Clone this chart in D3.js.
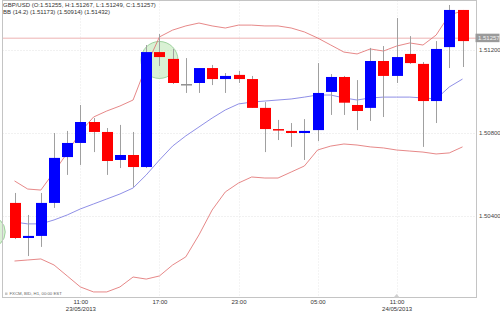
<!DOCTYPE html>
<html>
<head>
<meta charset="utf-8">
<script src="https://cdn.jsdelivr.net/npm/d3@7"></script>
<style>
  body { margin: 0; background: #fff; }
  svg { display: block; font-family: "Liberation Sans", Arial, sans-serif; }
</style>
</head>
<body>
<script>
// GBP/USD hourly candles, 23/05/2013 06:00 .. 24/05/2013 16:00
const hours = d3.timeHour.range(new Date(2013, 4, 23, 6), new Date(2013, 4, 24, 17));

const open  = [1.50463, 1.50294, 1.50304, 1.50463, 1.50684, 1.50752, 1.50853, 1.50805, 1.50670, 1.50694,
               1.50636, 1.51190, 1.51157, 1.51036, 1.51041, 1.51113, 1.51060, 1.51080, 1.51060, 1.50921,
               1.50819, 1.50810, 1.50800, 1.50814, 1.50998, 1.51070, 1.50935, 1.50921, 1.51147, 1.51075,
               1.51181, 1.51133, 1.50954, 1.51214, 1.51393];
const high  = [1.50511, 1.50405, 1.50511, 1.50800, 1.50810, 1.50935, 1.50872, 1.50824, 1.50839, 1.50805,
               1.51224, 1.51277, 1.51205, 1.51161, 1.51113, 1.51128, 1.51089, 1.51099, 1.51075, 1.50949,
               1.50863, 1.50848, 1.50867, 1.51137, 1.51084, 1.51075, 1.51055, 1.51210, 1.51219, 1.51354,
               1.51267, 1.51142, 1.51243, 1.51417, 1.51393];
const low   = [1.50289, 1.50207, 1.50251, 1.50439, 1.50598, 1.50646, 1.50708, 1.50598, 1.50631, 1.50540,
               1.50631, 1.51123, 1.51036, 1.50993, 1.50993, 1.51031, 1.50993, 1.51041, 1.50921, 1.50708,
               1.50766, 1.50733, 1.50670, 1.50761, 1.50887, 1.50887, 1.50814, 1.50858, 1.50877, 1.51041,
               1.51133, 1.50733, 1.50848, 1.51113, 1.51118];
const close = [1.50294, 1.50304, 1.50463, 1.50680, 1.50752, 1.50853, 1.50805, 1.50665, 1.50694, 1.50636,
               1.51190, 1.51166, 1.51041, 1.51036, 1.51113, 1.51060, 1.51075, 1.51060, 1.50921, 1.50819,
               1.50814, 1.50800, 1.50810, 1.50993, 1.51070, 1.50946, 1.50906, 1.51147, 1.51075, 1.51166,
               1.51137, 1.50954, 1.51205, 1.51393, 1.51243];

// Bollinger bands (14, 2)
const bbUpper  = [1.50569, 1.50530, 1.50525, 1.50612, 1.50704, 1.50805, 1.50877, 1.50906, 1.50930, 1.50959,
                  1.51123, 1.51263, 1.51296, 1.51316, 1.51330, 1.51316, 1.51306, 1.51320, 1.51320, 1.51316,
                  1.51316, 1.51306, 1.51287, 1.51258, 1.51224, 1.51190, 1.51181, 1.51205, 1.51195, 1.51219,
                  1.51234, 1.51224, 1.51272, 1.51369, 1.51388];
const bbMiddle = [1.50371, 1.50362, 1.50362, 1.50381, 1.50405, 1.50434, 1.50458, 1.50482, 1.50506, 1.50535,
                  1.50598, 1.50670, 1.50737, 1.50786, 1.50829, 1.50872, 1.50911, 1.50940, 1.50949, 1.50954,
                  1.50959, 1.50964, 1.50973, 1.50983, 1.50983, 1.50969, 1.50959, 1.50969, 1.50973, 1.50973,
                  1.50973, 1.50969, 1.50964, 1.51022, 1.51060];
const bbLower  = [1.50183, 1.50188, 1.50193, 1.50164, 1.50111, 1.50058, 1.50034, 1.50034, 1.50058, 1.50106,
                  1.50096, 1.50111, 1.50164, 1.50203, 1.50309, 1.50429, 1.50516, 1.50559, 1.50588, 1.50583,
                  1.50583, 1.50612, 1.50641, 1.50718, 1.50737, 1.50747, 1.50742, 1.50733, 1.50728, 1.50718,
                  1.50713, 1.50708, 1.50699, 1.50704, 1.50733];

const lastPrice = 1.51257;
const yTicks = [1.504, 1.508, 1.512];
const xTicks = [new Date(2013, 4, 23, 11), new Date(2013, 4, 23, 17), new Date(2013, 4, 23, 23),
                new Date(2013, 4, 24, 5), new Date(2013, 4, 24, 11)];
const dateLabels = ['23/05/2013', '', '', '', '24/05/2013'];
const highlights = [{t: new Date(2013, 4, 23, 17), p: 1.51152, r: 18.5},
                    {t: new Date(2013, 4, 23, 4, 5), p: 1.50323, r: 16}];

const width = 500, height = 313;
const frame = {left: 2.5, top: 0.5, right: 476.5, bottom: 297.5};

const svg = d3.select('body').append('svg')
  .attr('width', width)
  .attr('height', height);

const x = d3.scaleTime()
  .domain([hours[0], hours[hours.length - 1]])
  .range([14.5, 462.5]);

const y = d3.scaleLinear()
  .domain([1.504, 1.512])
  .range([216, 50]);

const bodyW = 11;

// grid
svg.append('g').selectAll('line')
  .data(yTicks).enter().append('line')
  .attr('x1', frame.left).attr('x2', frame.right)
  .attr('y1', d => Math.round(y(d)) + 0.5).attr('y2', d => Math.round(y(d)) + 0.5)
  .style('stroke', '#e2e2e2').style('stroke-dasharray', '1,2');

svg.append('g').selectAll('line')
  .data(xTicks).enter().append('line')
  .attr('x1', d => Math.round(x(d)) + 0.5).attr('x2', d => Math.round(x(d)) + 0.5)
  .attr('y1', frame.top).attr('y2', frame.bottom)
  .style('stroke', '#e8e8e8').style('stroke-dasharray', '1,2');

// highlight circles
svg.append('g').selectAll('circle')
  .data(highlights).enter().append('circle')
  .attr('cx', d => x(d.t))
  .attr('cy', d => y(d.p))
  .attr('r', d => d.r)
  .style('fill', 'rgba(170,225,160,0.45)')
  .style('stroke', '#8bc88b')
  .style('stroke-width', 0.8);

// last price line
svg.append('line')
  .attr('x1', frame.left).attr('x2', frame.right)
  .attr('y1', y(lastPrice)).attr('y2', y(lastPrice))
  .style('stroke', '#e8a0a0').style('stroke-width', 0.8);

// bands
const band = vals => d3.line()
  .x((d, i) => x(hours[i]))
  .y(d => y(d))(vals);

svg.append('path').attr('d', band(bbUpper))
  .style('fill', 'none').style('stroke', '#e06a6a').style('stroke-width', 0.8);
svg.append('path').attr('d', band(bbLower))
  .style('fill', 'none').style('stroke', '#e06a6a').style('stroke-width', 0.8);
svg.append('path').attr('d', band(bbMiddle))
  .style('fill', 'none').style('stroke', '#7272e0').style('stroke-width', 0.8);

// candles
const candles = hours.map((t, i) => ({t, o: open[i], h: high[i], l: low[i], c: close[i]}));

const cg = svg.append('g').selectAll('g')
  .data(candles).enter().append('g');

cg.append('line')
  .attr('x1', d => Math.round(x(d.t)) + 0.5).attr('x2', d => Math.round(x(d.t)) + 0.5)
  .attr('y1', d => y(d.h)).attr('y2', d => y(d.l))
  .style('stroke', '#a0a0a0').style('stroke-width', 1);

cg.append('rect')
  .attr('x', d => Math.round(x(d.t)) + 0.5 - bodyW / 2)
  .attr('width', bodyW)
  .attr('y', d => y(Math.max(d.o, d.c)))
  .attr('height', d => Math.max(1.5, Math.abs(y(d.o) - y(d.c))))
  .style('fill', d => d.c > d.o ? '#0000ff' : d.c < d.o ? '#ff0000' : '#909090');

// frame
svg.append('rect')
  .attr('x', frame.left).attr('y', frame.top)
  .attr('width', frame.right - frame.left).attr('height', frame.bottom - frame.top)
  .style('fill', 'none').style('stroke', '#c4c4c4');

// y axis
const yAxis = svg.append('g')
  .attr('transform', `translate(${frame.right},0)`)
  .call(d3.axisRight(y).tickValues(yTicks).tickFormat(d3.format('.5f')).tickSize(0).tickPadding(2.5));
yAxis.select('.domain').remove();
yAxis.selectAll('text').style('font-size', '6px').style('fill', '#444').style('font-family', 'Liberation Sans, Arial');

// last price tag
svg.append('rect')
  .attr('x', frame.right - 1).attr('y', y(lastPrice) - 4.5)
  .attr('width', 24).attr('height', 8.5)
  .style('fill', '#9a9a9a');
svg.append('text')
  .attr('x', frame.right + 1.5).attr('y', y(lastPrice) + 2.1)
  .style('font-size', '6px').style('fill', '#f4f4f4')
  .text(d3.format('.5f')(lastPrice));

// x axis
const xAxis = svg.append('g')
  .attr('transform', `translate(0,${frame.bottom})`)
  .call(d3.axisBottom(x).tickValues(xTicks).tickFormat(d3.timeFormat('%H:%M')).tickSize(0).tickPadding(2.5));
xAxis.select('.domain').remove();
xAxis.selectAll('text').style('font-size', '6px').style('fill', '#333').style('font-family', 'Liberation Sans, Arial');
xAxis.selectAll('.tick').append('text')
  .attr('y', 9.5).attr('dy', '0.71em')
  .attr('fill', '#333')
  .style('font-size', '6px')
  .style('font-family', 'Liberation Sans, Arial')
  .text((d, i) => dateLabels[i]);

// small marker on the time axis
const mx = x(xTicks[4]);
svg.append('path')
  .attr('d', `M${mx - 3},${frame.bottom} L${mx},${frame.bottom - 3.5} L${mx + 3},${frame.bottom} Z`)
  .style('fill', '#d0d0d0');

// header
svg.append('text').attr('x', 3).attr('y', 6.5)
  .style('font-size', '6px').style('fill', '#333')
  .text('GBP/USD (O:1.51255, H:1.51267, L:1.51249, C:1.51257)');
svg.append('text').attr('x', 3).attr('y', 13.5)
  .style('font-size', '6px').style('fill', '#333')
  .text('BB (14.2) (1.51173) (1.50914) (1.51432)');

// source note
svg.append('rect').attr('x', 5).attr('y', 292.5).attr('width', 2.5).attr('height', 2.5)
  .style('fill', '#c8c8c8');
svg.append('text').attr('x', 9.5).attr('y', 295.3)
  .style('font-size', '4.3px').style('fill', '#666')
  .text('FXCM, BID, H1, 00:00 EST');
</script>
</body>
</html>
